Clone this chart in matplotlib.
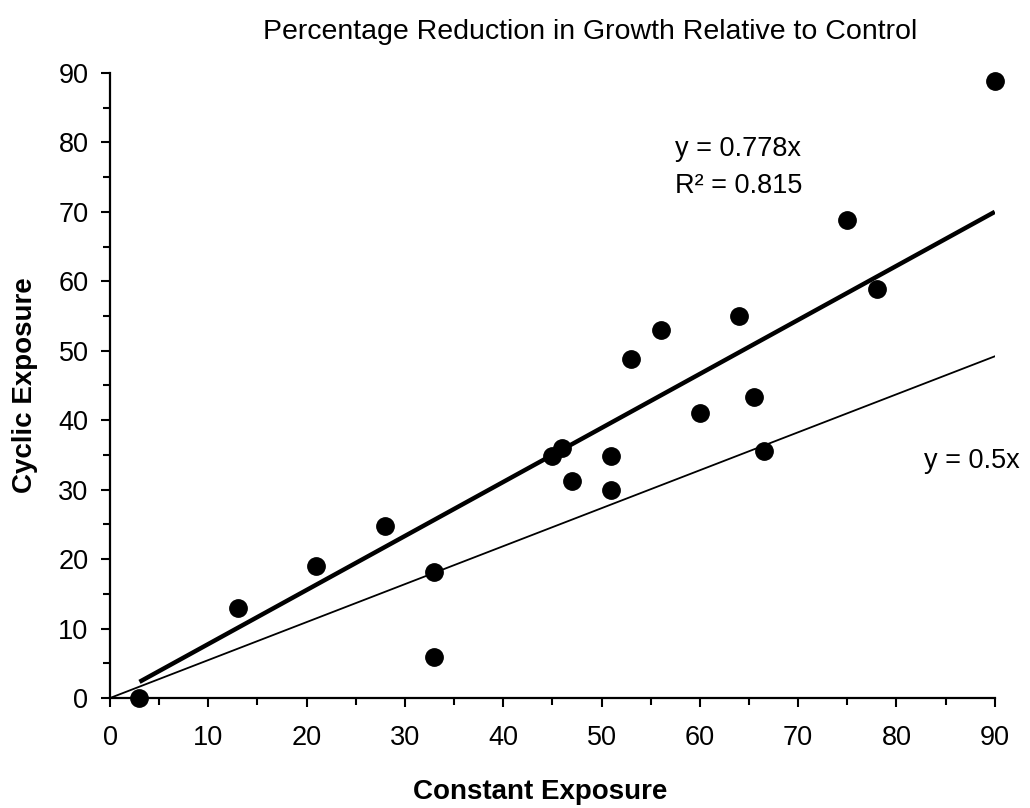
import numpy as np
import matplotlib.pyplot as plt
from matplotlib import rcParams
from matplotlib.ticker import MultipleLocator

rcParams.update({'font.family': ['Liberation Sans', 'DejaVu Sans'], 'font.size': 19.5})

# data
constant = [3, 13, 21, 28, 33, 33, 45, 46, 47, 51, 51, 53, 56, 60, 64, 65.5, 66.5, 75, 78, 90]
cyclic = [0, 13, 19, 24.8, 18.1, 5.9, 34.9, 36, 31.2, 34.9, 30, 48.8, 53, 41.1, 55, 43.3, 35.6, 68.8, 58.9, 88.8]

# fitted line (through origin) and reference line, as drawn
fit_x = [3, 90]
fit_y = [2.33, 70.0]
ref_x = [0, 90]
ref_y = [0, 49.2]

fig = plt.figure(figsize=(10.3, 8.08), dpi=100)
ax = fig.add_axes([0.1068, 0.1361, 0.859, 0.7736])

ax.plot(fit_x, fit_y, '-', color='black', lw=3.2, solid_capstyle='butt', zorder=2)
ax.plot(ref_x, ref_y, '-', color='black', lw=1.3, zorder=2)
ax.plot(constant, cyclic, 'o', color='black', ms=12.5, zorder=3, clip_on=False)

ax.set_xlim(0, 90)
ax.set_ylim(0, 90)
ax.xaxis.set_major_locator(MultipleLocator(10))
ax.xaxis.set_minor_locator(MultipleLocator(5))
ax.yaxis.set_major_locator(MultipleLocator(10))
ax.yaxis.set_minor_locator(MultipleLocator(5))
ax.tick_params(which='major', direction='out', length=6.5, width=1.5, labelsize=19.5)
ax.tick_params(axis='x', which='major', pad=13)
ax.tick_params(axis='y', which='major', pad=9)
ax.tick_params(which='minor', direction='out', length=4.8, width=1.5)
for s in ['top', 'right']:
    ax.spines[s].set_visible(False)
for s in ['left', 'bottom']:
    ax.spines[s].set_linewidth(1.6)

ax.text(63.9, 79.0, 'y = 0.778x', ha='center', va='center', fontsize=19.5)
ax.text(63.9, 73.7, 'R² = 0.815', ha='center', va='center', fontsize=19.5)
ax.text(87.7, 34.2, 'y = 0.5x', ha='center', va='center', fontsize=19.5)

fig.text(0.573, 0.96, 'Percentage Reduction in Growth Relative to Control',
         ha='center', va='center', fontsize=20.5)
fig.text(0.524, 0.02, 'Constant Exposure', ha='center', va='center',
         fontsize=20, fontweight='bold')
fig.text(0.024, 0.523, 'Cyclic Exposure', ha='center', va='center',
         fontsize=20, fontweight='bold', rotation=90)

fig.savefig('out.png', dpi=100)
